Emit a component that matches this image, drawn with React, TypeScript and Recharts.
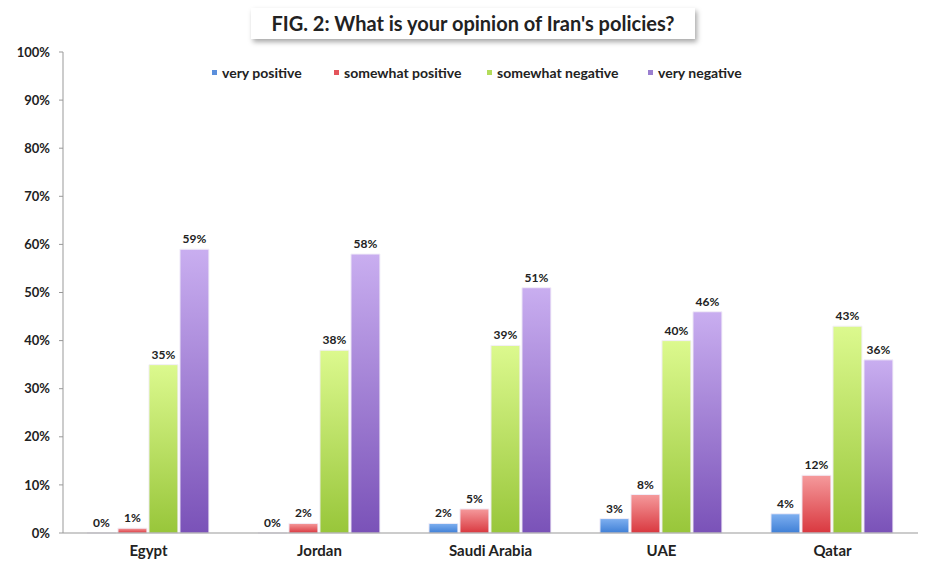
import { Bar, BarChart, LabelList, XAxis, YAxis } from "recharts";

const countries = ["Egypt", "Jordan", "Saudi Arabia", "UAE", "Qatar"];
const veryPositive = [0, 0, 2, 3, 4];
const somewhatPositive = [1, 2, 5, 8, 12];
const somewhatNegative = [35, 38, 39, 40, 43];
const veryNegative = [59, 58, 51, 46, 36];
const yTicks = [0, 10, 20, 30, 40, 50, 60, 70, 80, 90, 100];

const data = countries.map((country, i) => ({
  country,
  vp: veryPositive[i],
  sp: somewhatPositive[i],
  sn: somewhatNegative[i],
  vn: veryNegative[i],
}));

const series = [
  { key: "vp", name: "very positive", fill: "url(#gBlue)", legend: "#5b8fdc", x: 212 },
  { key: "sp", name: "somewhat positive", fill: "url(#gRed)", legend: "#e4545b", x: 334 },
  { key: "sn", name: "somewhat negative", fill: "url(#gGreen)", legend: "#b3dc5a", x: 487 },
  { key: "vn", name: "very negative", fill: "url(#gPurple)", legend: "#9a7fd0", x: 648 },
];

const font = "Lato, 'Open Sans', sans-serif";

export default function App() {
  return (
    <div style={{ position: "relative", width: 938, height: 566, background: "#fff", fontFamily: font }}>
      <style>{`body{margin:0}`}</style>
      <div
        style={{
          position: "absolute",
          left: 251,
          top: 8,
          width: 444,
          height: 31,
          background: "#fff",
          boxShadow: "2px 3px 5px rgba(0,0,0,0.35)",
          textAlign: "center",
          lineHeight: "31px",
          fontSize: 20,
          fontWeight: 700,
          color: "#222",
          whiteSpace: "nowrap",
        }}
      >
        FIG. 2: What is your opinion of Iran's policies?
      </div>
      {series.map((s) => (
        <div
          key={s.key}
          style={{
            position: "absolute",
            left: s.x,
            top: 64,
            display: "flex",
            alignItems: "center",
            fontSize: 14,
            fontWeight: 700,
            color: "#222",
            whiteSpace: "nowrap",
            zIndex: 1,
          }}
        >
          <span style={{ width: 5, height: 5, background: s.legend, marginRight: 5, display: "inline-block" }} />
          {s.name}
        </div>
      ))}
      <BarChart
        width={938}
        height={566}
        data={data}
        margin={{ top: 52, right: 20, left: 0, bottom: 0 }}
        barCategoryGap="14%"
        barGap={2}
      >
        <defs>
          <linearGradient id="gBlue" x1="0" y1="0" x2="0" y2="1">
            <stop offset="0%" stopColor="#7fb0f0" />
            <stop offset="100%" stopColor="#3f7fd6" />
          </linearGradient>
          <linearGradient id="gRed" x1="0" y1="0" x2="0" y2="1">
            <stop offset="0%" stopColor="#f59a9c" />
            <stop offset="100%" stopColor="#d9383f" />
          </linearGradient>
          <linearGradient id="gGreen" x1="0" y1="0" x2="0" y2="1">
            <stop offset="0%" stopColor="#dcf98e" />
            <stop offset="100%" stopColor="#98c63a" />
          </linearGradient>
          <linearGradient id="gPurple" x1="0" y1="0" x2="0" y2="1">
            <stop offset="0%" stopColor="#c9aef0" />
            <stop offset="100%" stopColor="#7a52b8" />
          </linearGradient>
        </defs>
        <XAxis
          dataKey="country"
          height={33}
          axisLine={{ stroke: "#999" }}
          tickLine={false}
          tick={{ fill: "#222", fontSize: 15, fontWeight: 700, fontFamily: font }}
          tickMargin={6}
        />
        <YAxis
          width={63}
          domain={[0, 100]}
          ticks={yTicks}
          interval={0}
          axisLine={{ stroke: "#999" }}
          tickLine={{ stroke: "#999" }}
          tickSize={4}
          tickMargin={9}
          tickFormatter={(v) => `${v}%`}
          tick={{ fill: "#222", fontSize: 13, fontWeight: 700, fontFamily: font }}
        />
        {series.map((s) => (
          <Bar
            key={s.key}
            dataKey={s.key}
            name={s.name}
            fill={s.fill}
            stroke="#f2eef8"
            strokeWidth={1}
            minPointSize={(v: number) => (v === 0 ? 0.001 : 0)}
            isAnimationActive={false}
          >
            <LabelList
              dataKey={s.key}
              position="top"
              offset={6}
              formatter={(v: number) => `${v}%`}
              style={{ fill: "#222", fontSize: 12, fontWeight: 700, fontFamily: font }}
            />
          </Bar>
        ))}
      </BarChart>
    </div>
  );
}
